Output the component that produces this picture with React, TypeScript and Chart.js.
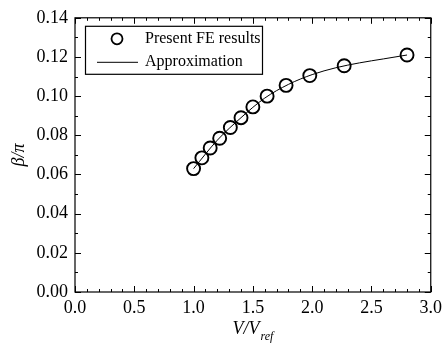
import React, { useEffect, useRef } from "react";
import { Chart, registerables } from "chart.js";

Chart.register(...registerables);

const feX = [1.0, 1.07, 1.14, 1.22, 1.31, 1.4, 1.5, 1.62, 1.78, 1.98, 2.27, 2.8];
const feY = [0.063, 0.0685, 0.0735, 0.0785, 0.084, 0.089, 0.0945, 0.1, 0.1055, 0.1105, 0.1155, 0.121];
const approxX = [1.0, 1.2, 1.4, 1.6, 1.8, 2.0, 2.2, 2.4, 2.6, 2.8];
const approxY = [0.063, 0.0775, 0.089, 0.099, 0.106, 0.111, 0.1145, 0.117, 0.119, 0.121];
const seriesLabels = ["Present FE results", "Approximation"];
const xTitle = "V/V";
const xTitleSub = "ref";
const yTitle = "β/π";

const FONT = "'Liberation Serif', 'DejaVu Serif', serif";

const framePlugin = {
  id: "frame",
  afterDraw(chart: any) {
    const ctx = chart.ctx;
    const { left, right, top, bottom } = chart.chartArea;
    const xs = chart.scales.x;
    const ys = chart.scales.y;
    ctx.save();
    ctx.strokeStyle = "#000";
    ctx.lineWidth = 1.2;
    ctx.strokeRect(left, top, right - left, bottom - top);
    ctx.lineWidth = 1;
    for (let i = 0; i <= 30; i++) {
      const px = Math.round(xs.getPixelForValue(i * 0.1)) + 0.5;
      const len = i % 5 === 0 ? 6 : 3;
      ctx.beginPath();
      ctx.moveTo(px, bottom);
      ctx.lineTo(px, bottom - len);
      ctx.moveTo(px, top);
      ctx.lineTo(px, top + len);
      ctx.stroke();
    }
    for (let i = 0; i <= 14; i++) {
      const py = Math.round(ys.getPixelForValue(i * 0.01)) + 0.5;
      const len = i % 2 === 0 ? 6 : 3;
      ctx.beginPath();
      ctx.moveTo(left, py);
      ctx.lineTo(left + len, py);
      ctx.moveTo(right, py);
      ctx.lineTo(right - len, py);
      ctx.stroke();
    }
    // legend
    const lx = left + 10;
    const ly = top + 8;
    const lw = 177;
    const lh = 48;
    ctx.fillStyle = "#fff";
    ctx.fillRect(lx, ly, lw, lh);
    ctx.strokeStyle = "#000";
    ctx.lineWidth = 1.2;
    ctx.strokeRect(lx + 0.5, ly + 0.5, lw, lh);
    ctx.lineWidth = 1.8;
    ctx.beginPath();
    ctx.arc(lx + 32, ly + 13, 5.5, 0, Math.PI * 2);
    ctx.stroke();
    ctx.lineWidth = 1;
    ctx.beginPath();
    ctx.moveTo(lx + 12, ly + 36.5);
    ctx.lineTo(lx + 53, ly + 36.5);
    ctx.stroke();
    ctx.fillStyle = "#000";
    ctx.font = `16px ${FONT}`;
    ctx.textBaseline = "middle";
    ctx.textAlign = "left";
    ctx.fillText(chart.data.datasets[0].label, lx + 60, ly + 13);
    ctx.fillText(chart.data.datasets[1].label, lx + 60, ly + 36);
    // x title
    const cx = (left + right) / 2;
    ctx.font = `italic 18px ${FONT}`;
    const w1 = ctx.measureText(xTitle).width;
    ctx.font = `italic 12px ${FONT}`;
    const w2 = ctx.measureText(xTitleSub).width;
    const sx = cx - (w1 + w2 + 1) / 2;
    ctx.font = `italic 18px ${FONT}`;
    ctx.textBaseline = "alphabetic";
    ctx.fillText(xTitle, sx, bottom + 42);
    ctx.font = `italic 12px ${FONT}`;
    ctx.fillText(xTitleSub, sx + w1 + 1, bottom + 48);
    // y title
    ctx.translate(19, (top + bottom) / 2);
    ctx.rotate(-Math.PI / 2);
    ctx.font = `italic 18px ${FONT}`;
    ctx.textAlign = "center";
    ctx.textBaseline = "middle";
    ctx.fillText(yTitle, 0, 0);
    ctx.restore();
  },
};

export default function App() {
  const ref = useRef<HTMLCanvasElement>(null);
  useEffect(() => {
    const chart = new Chart(ref.current!, {
      type: "scatter",
      data: {
        datasets: [
          {
            label: seriesLabels[0],
            data: feX.map((x, i) => ({ x, y: feY[i] })),
            showLine: false,
            pointRadius: 6.5,
            pointBorderWidth: 1.9,
            pointBorderColor: "#000",
            pointBackgroundColor: "rgba(0,0,0,0)",
            order: 0,
          },
          {
            label: seriesLabels[1],
            data: approxX.map((x, i) => ({ x, y: approxY[i] })),
            showLine: true,
            pointRadius: 0,
            borderColor: "#000",
            borderWidth: 1,
            cubicInterpolationMode: "monotone",
            order: 1,
          },
        ],
      },
      options: {
        responsive: false,
        animation: false,
        layout: { padding: { top: 14, right: 14, left: 0, bottom: 0 } },
        plugins: { legend: { display: false }, tooltip: { enabled: false } },
        scales: {
          x: {
            type: "linear",
            min: 0,
            max: 3,
            grid: { display: false, drawTicks: false },
            border: { display: false },
            ticks: {
              stepSize: 0.5,
              padding: 5,
              color: "#000",
              font: { family: FONT, size: 18 },
              callback: (v: any) => Number(v).toFixed(1),
              maxRotation: 0,
            },
            afterFit: (s: any) => {
              s.height = 65;
            },
          },
          y: {
            type: "linear",
            min: 0,
            max: 0.14,
            grid: { display: false, drawTicks: false },
            border: { display: false },
            ticks: {
              stepSize: 0.02,
              padding: 7,
              color: "#000",
              font: { family: FONT, size: 18 },
              callback: (v: any) => Number(v).toFixed(2),
            },
            afterFit: (s: any) => {
              s.width = 75;
            },
          },
        },
      },
      plugins: [framePlugin],
    } as any);
    return () => chart.destroy();
  }, []);
  return (
    <canvas
      ref={ref}
      width={447}
      height={357}
      style={{ position: "fixed", left: 0, top: 0, display: "block", background: "#fff" }}
    />
  );
}
